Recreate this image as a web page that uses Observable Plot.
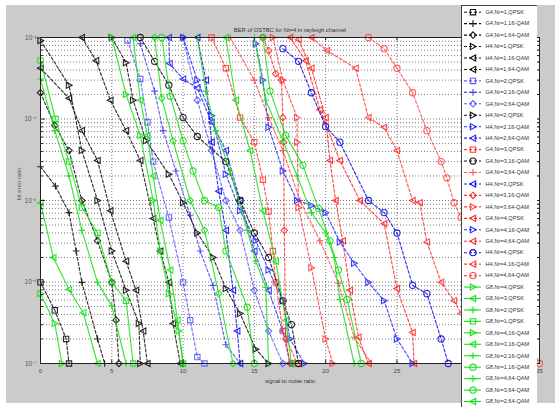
<!DOCTYPE html>
<html><head><meta charset="utf-8">
<script src="https://cdn.jsdelivr.net/npm/d3@7"></script>
<script src="https://cdn.jsdelivr.net/npm/@observablehq/plot@0.6"></script>
<style>
html,body{margin:0;padding:0;background:#fff;overflow:hidden;width:555px;height:407px}
#wrap{position:relative;width:555px;height:407px;overflow:hidden}
#bg{position:absolute;left:6px;top:5px;width:549px;height:398px;background:#cbcbcb}
#chart{position:absolute;left:0;top:0}
#legend{position:absolute;left:461px;top:5px}
</style></head>
<body><div id="wrap"><div id="bg"></div><div id="chart"></div><div id="legend"></div></div>
<script>
const titleText = "BER of OSTBC for Nt=4 in rayleigh channel";
const xLabelText = "signal to noise ratio";
const yLabelText = "bit error ratio";
const xTicks = [0, 5, 10, 15, 20, 25, 30, 35];
const yMajor = [1e-7, 1e-6, 1e-5, 1e-4, 1e-3];

const seriesNames = [
 "G4,Nr=1,QPSK","G4,Nr=1,16-QAM","G4,Nr=1,64-QAM","H4,Nr=1,QPSK","H4,Nr=1,16-QAM","H4,Nr=1,64-QAM",
 "G4,Nr=2,QPSK","G4,Nr=2,16-QAM","G4,Nr=2,64-QAM","H4,Nr=2,QPSK","H4,Nr=2,16-QAM","H4,Nr=2,64-QAM",
 "G4,Nr=3,QPSK","G4,Nr=3,16-QAM","G4,Nr=3,64-QAM","H4,Nr=3,QPSK","H4,Nr=3,16-QAM","H4,Nr=3,64-QAM",
 "G4,Nr=4,QPSK","G4,Nr=4,16-QAM","G4,Nr=4,64-QAM","H4,Nr=4,QPSK","H4,Nr=4,16-QAM","H4,Nr=4,64-QAM",
 "G8,Nr=4,QPSK","G8,Nr=3,QPSK","G8,Nr=2,QPSK","G8,Nr=1,QPSK","G8,Nr=4,16-QAM","G8,Nr=3,16-QAM",
 "G8,Nr=2,16-QAM","G8,Nr=1,16-QAM","G8,Nr=4,64-QAM","G8,Nr=3,64-QAM","G8,Nr=2,64-QAM","G8,Nr=1,64-QAM"
];

const snrValues = [
 [0,1.0,1.8,2.0],
 [0,1.05,2.0,2.5,2.9,4.0,4.5],
 [0,1.0,2.0,2.9,4.0,5.0,5.3,5.5],
 [0,2.0,2.9,4.0,5.0,6.0,6.9,7.0],
 [0,2.0,2.9,4.0,4.9,6.0,6.7,7.2,7.5],
 [2.9,3.9,4.9,6.0,7.0,7.9,8.4,9.0,9.3,9.8],
 [6.1,7.0,7.5,7.9,9.0,10.0,10.5,11.0,11.5],
 [7.0,8.0,8.6,9.5,10.5,11.2,12.1,13.0,14.0],
 [10.0,11.0,12.0,13.0,14.0,15.0,16.0,17.0],
 [5.0,6.0,6.5,7.4,9.0,10.0,11.0,12.1,13.0,14.0,15.1,16.0],
 [10.0,11.0,12.0,13.0,14.0,15.1,16.0,17.0,17.5,18.5],
 [9.0,9.05,10.0,11.0,12.0,13.0,14.0,15.0,16.0,17.0,17.5],
 [12.0,13.0,14.0,15.0,15.6,16.0,16.3,16.5,17.0,18.0],
 [7.0,8.0,9.0,10.0,11.0,13.0,14.0,15.0,16.0,17.0,17.6,18.1],
 [13.3,15.0,16.0,17.0,18.2,19.6,20.9,22.0,23.2],
 [11.0,11.6,12.0,12.5,13.0,13.5,13.8,14.0],
 [15.6,16.0,16.5,16.9,17.0,17.05,17.1,17.2,17.5],
 [16.3,17.0,18.0,18.0,18.1,19.0,20.0,20.5],
 [18.1,19.0,20.0,20.3,20.7,21.2,21.7,22.3,23.0],
 [15.1,15.6,16.0,17.0,18.0,19.0,20.0,21.0,22.0,23.0,24.1,25.0,26.1],
 [17.5,18.6,19.6,21.0,22.4,24.1,25.0,26.1,26.2],
 [17.0,18.1,19.0,20.0,21.0,23.0,24.1,25.0,26.1,27.1,28.1,28.6],
 [19.0,20.1,22.1,23.0,24.1,25.0,26.1,26.6,27.1,28.1,29.0,29.5,30.9,32.3],
 [23.0,24.1,25.0,26.1,27.1,28.1,28.5,29.0,29.5,30.9,32.3,33.7,35.0],
 [0,1.0,1.5],
 [0,0.9,2.0,3.0,4.0],
 [0,1.0,2.0,2.9,4.0,5.0,6.0],
 [0,1.05,2.0,2.9,4.0,5.0,6.0,6.5],
 [5.0,6.0,7.0,7.9,8.4,9.0,9.7,10.0],
 [6.5,7.0,7.5,7.9,8.4,9.1,9.6,10.0],
 [11.0,11.6,12.3,13.3,14.5,15.1,15.8,16.0],
 [8.5,9.1,10.0,10.7,11.5,12.5,13.0,14.5,15.0],
 [15.0,15.8,17.0,18.0,19.0,20.0,20.6,21.0,22.0],
 [15.6,16.1,17.2,18.4,19.5,20.3,20.9,21.5,22.5],
 [13.0,13.7,14.7,15.6,16.5,17.2,17.6],
 [8.0,8.5,9.3,10.5,11.5,12.5,13.5]
];

const berValues = [
 [9.9e-7,4.5e-7,2.0e-7,1e-7],
 [2.6e-5,1.5e-5,7.1e-6,2.4e-6,9.9e-7,2.0e-7,1e-7],
 [2.1e-4,8.3e-5,4.1e-5,1e-5,3.2e-6,9.9e-7,3.4e-7,1e-7],
 [9.2e-4,2.6e-4,4.1e-5,1e-5,2.4e-6,7.9e-7,3.1e-7,1e-7],
 [4.2e-4,1.8e-4,7.2e-5,3.1e-5,7.5e-6,1.8e-6,7.9e-7,2.5e-7,1e-7],
 [1e-3,5.2e-4,1.7e-4,7.2e-5,3.1e-5,6.0e-6,2.4e-6,9.9e-7,3.1e-7,1e-7],
 [9.2e-4,3.1e-4,9.1e-5,3.0e-5,6.2e-6,9.9e-7,3.4e-7,1.2e-7,1e-7],
 [8.4e-4,2.2e-4,7.2e-5,2.3e-5,6.6e-6,2.4e-6,9.1e-7,1.7e-7,1e-7],
 [1e-3,1.7e-4,4.1e-5,1e-5,4.3e-6,7.9e-7,2.5e-7,1e-7],
 [1e-3,4.9e-4,1.7e-4,5.4e-5,2.1e-5,9.4e-6,4.0e-6,2.0e-6,8.3e-7,4.1e-7,1.5e-7,1e-7],
 [1e-3,3.0e-4,1.1e-4,2.1e-5,7.5e-6,3.2e-6,1.4e-6,5.9e-7,2.0e-7,1e-7],
 [1e-3,4.8e-4,3.1e-4,2.4e-4,9.1e-5,4.1e-5,1e-5,2.4e-6,7.9e-7,2.5e-7,1e-7],
 [1e-3,4.2e-4,1.04e-4,5.2e-5,1.8e-5,7.3e-6,2.4e-6,9.9e-7,2.5e-7,1e-7],
 [1e-3,5.1e-4,2.6e-4,1.04e-4,6.1e-5,3.0e-5,1e-5,4.0e-6,2.0e-6,5.9e-7,3.0e-7,1e-7],
 [1e-3,3.0e-4,1.04e-4,4.1e-5,1e-5,3.2e-6,9.7e-7,2.1e-7,1e-7],
 [1e-3,3.0e-4,5.2e-5,1.3e-5,4.3e-6,7.9e-7,2.5e-7,1e-7],
 [1e-3,6.9e-4,3.6e-4,3.0e-4,1.04e-4,5.2e-5,4.3e-6,2.0e-7,1e-7],
 [1e-3,3.0e-4,1.04e-4,5.2e-5,8.2e-6,1.5e-6,2.0e-7,1e-7],
 [9.4e-4,4.2e-4,1.04e-4,3.1e-5,1e-5,3.2e-6,7.9e-7,2.1e-7,1e-7],
 [8.4e-4,3.0e-4,7.9e-5,2.3e-5,1e-5,8.7e-6,7.1e-6,3.1e-6,1.7e-6,9.9e-7,5.9e-7,2.0e-7,1e-7],
 [1e-3,5.2e-4,1.3e-4,3.1e-5,1e-5,5.2e-6,8.3e-7,2.4e-7,1e-7],
 [7.3e-4,5.1e-4,2.1e-4,8.1e-5,5.2e-5,1e-5,7.1e-6,4.0e-6,9.1e-7,7.2e-7,2.0e-7,1e-7],
 [1e-3,6.9e-4,4.2e-4,1.04e-4,7.9e-5,4.1e-5,1e-5,9.4e-6,3.1e-6,9.9e-7,5.9e-7,4.1e-7,1.9e-7,1e-7],
 [1e-3,7.3e-4,4.2e-4,2.1e-4,7.2e-5,3.0e-5,1.9e-5,9.4e-6,6.2e-6,2.1e-6,7.9e-7,2.9e-7,1e-7],
 [7.2e-7,3.1e-7,1e-7],
 [9.4e-6,2.0e-6,8.1e-7,4.2e-7,1e-7],
 [3.1e-4,7.2e-5,2.0e-5,4.3e-6,9.9e-7,5.1e-7,1e-7],
 [5.2e-4,1e-4,3.0e-5,8.2e-6,4.0e-6,9.9e-7,5.9e-7,1e-7],
 [1e-3,2.0e-4,6.3e-5,1e-5,2.4e-6,7.2e-7,2.5e-7,1e-7],
 [1e-3,1.7e-4,6.3e-5,2.0e-5,5.7e-6,1.4e-6,3.4e-7,1e-7],
 [1e-3,2.2e-4,7.2e-5,2.3e-5,4.3e-6,1.8e-6,8.6e-7,1e-7],
 [1e-3,1.9e-4,5.4e-5,2.3e-5,1e-5,8.2e-6,2.4e-6,4.9e-7,1e-7],
 [1e-3,1.7e-4,5.4e-5,2.0e-5,7.1e-6,4.0e-6,2.0e-6,6.1e-7,1e-7],
 [1e-3,2.2e-4,6.3e-5,2.7e-5,8.0e-6,3.2e-6,1.4e-6,6.1e-7,1e-7],
 [1e-3,1.7e-4,4.1e-5,7.5e-6,1.8e-6,3.4e-7,1e-7],
 [1e-3,1.8e-4,5.4e-5,1e-5,4.3e-6,7.2e-7,1e-7]
];

const seriesColors = [
 "#111","#111","#111","#111","#111","#111",
 "#5a5aff","#4444ff","#5a5aff","#111","#2a2aff","#2a2aff",
 "#ff3b3b","#111","#ff4d4d","#1010ee","#ff3030","#ff4040",
 "#ff2a2a","#2a2aff","#ff2a2a","#1010dd","#ff3a3a","#ff4d4d",
 "#18e018","#18e018","#18e018","#18e018","#18e018","#18e018",
 "#18e018","#18e018","#18e018","#18e018","#18e018","#18e018"
];
const seriesMarkers = [
 "square","plus","diamond","triR","triL","triL",
 "square","plus","diamond","triR","triR","triL",
 "square","circle","plus","triL","diamond","triR",
 "triL","triR","triL","circle","triL","circle",
 "triR","triL","plus","square","triR","triL",
 "plus","circle","plus","circle","triL","diamond"
];
const seriesDashed = seriesNames.map(n => !n.startsWith("G8"));
// the legend box runs off the bottom of the figure: only the first 35 entries are visible
const legendVisible = 35;

const triR = {draw(ctx, size) { const s = Math.sqrt(size / Math.PI); ctx.moveTo(s, 0); ctx.lineTo(-s * 0.85, -s); ctx.lineTo(-s * 0.85, s); ctx.closePath(); }};
const triL = {draw(ctx, size) { const s = Math.sqrt(size / Math.PI); ctx.moveTo(-s, 0); ctx.lineTo(s * 0.85, -s); ctx.lineTo(s * 0.85, s); ctx.closePath(); }};
const symbolOf = m => m === "triR" ? triR : m === "triL" ? triL : m === "square" ? "square2" : m === "diamond" ? "diamond2" : m;
const radiusOf = m => m === "plus" ? 2.3 : m === "square" ? 3.4 : m === "diamond" ? 2.9 : 3.1;

const yMinor = [];
for (const d of yMajor.slice(0, -1)) for (let m = 2; m <= 9; m++) yMinor.push(d * m);
const yAll = yMajor.concat(yMinor);

const sup = {"-":"\u207B","0":"\u2070","1":"\u00B9","2":"\u00B2","3":"\u00B3","4":"\u2074","5":"\u2075","6":"\u2076","7":"\u2077","8":"\u2078","9":"\u2079"};
const fmtPow = d => "10" + String(Math.round(Math.log10(d))).split("").map(c => sup[c]).join("");

const seriesMarks = [];
seriesNames.forEach((name, i) => {
  const pts = snrValues[i].map((snr, j) => ({snr, ber: berValues[i][j]}));
  seriesMarks.push(Plot.line(pts, {x: "snr", y: "ber", stroke: seriesColors[i], strokeWidth: 1.15,
    strokeOpacity: 0.85, strokeDasharray: seriesDashed[i] ? "3,2" : null}));
  seriesMarks.push(Plot.dot(pts, {x: "snr", y: "ber", symbol: symbolOf(seriesMarkers[i]), r: radiusOf(seriesMarkers[i]),
    stroke: seriesColors[i], fill: "none", strokeWidth: 1.1, strokeOpacity: 0.9}));
});

const font = "'Liberation Sans', Arial, Helvetica, sans-serif";

const chart = Plot.plot({
  width: 555, height: 407,
  marginLeft: 40, marginRight: 16, marginTop: 37, marginBottom: 44,
  style: {background: "transparent", fontFamily: font},
  x: {domain: [0, 35]},
  y: {type: "log", domain: [1e-7, 1e-3]},
  marks: [
    Plot.frame({fill: "white"}),
    Plot.ruleY(yAll, {y: d => d, x1: 0, x2: 35, stroke: "#222", strokeWidth: 0.75, strokeDasharray: "1,2", strokeOpacity: 0.8}),
    Plot.ruleX(xTicks.slice(1, -1), {x: d => d, y1: 1e-7, y2: 1e-3, stroke: "#222", strokeWidth: 0.75, strokeDasharray: "1,2", strokeOpacity: 0.8}),
    ...seriesMarks,
    Plot.ruleY(yMajor, {y: d => d, x1: 0, x2: 0.35, stroke: "#222"}),
    Plot.ruleY(yMinor, {y: d => d, x1: 0, x2: 0.2, stroke: "#222"}),
    Plot.ruleY(yMajor, {y: d => d, x1: 34.65, x2: 35, stroke: "#222"}),
    Plot.ruleY(yMinor, {y: d => d, x1: 34.8, x2: 35, stroke: "#222"}),
    Plot.ruleX(xTicks, {x: d => d, y1: 1e-7, y2: 1.1e-7, stroke: "#222"}),
    Plot.ruleX(xTicks, {x: d => d, y1: 1e-3, y2: 9.1e-4, stroke: "#222"}),
    Plot.frame({stroke: "#222", strokeWidth: 1}),
    Plot.axisX({ticks: xTicks, tickSize: 0, tickPadding: 5, fontSize: 6, fill: "#444", label: null}),
    Plot.axisY({ticks: yMajor, tickSize: 0, tickPadding: 4, fontSize: 6.5, fill: "#555", tickFormat: fmtPow, label: null}),
    Plot.text([titleText], {frameAnchor: "top", dy: -10, fontSize: 5.8, fill: "#333"}),
    Plot.text([xLabelText], {frameAnchor: "bottom", dy: 19, fontSize: 5.8, fill: "#333"}),
    Plot.text([yLabelText], {frameAnchor: "left", dx: -21, rotate: -90, fontSize: 5.8, fill: "#555"})
  ]
});
document.getElementById("chart").appendChild(chart);

// Legend
const legendMarks = [Plot.frame({fill: "white", stroke: "#444", strokeWidth: 1})];
seriesNames.slice(0, legendVisible).forEach((name, i) => {
  legendMarks.push(Plot.ruleY([i], {y: d => d, x1: 3, x2: 20, stroke: seriesColors[i], strokeWidth: 1.1,
    strokeDasharray: seriesDashed[i] ? "3,2" : null}));
  legendMarks.push(Plot.dot([i], {x: 11.5, y: d => d, symbol: symbolOf(seriesMarkers[i]), r: radiusOf(seriesMarkers[i]),
    stroke: seriesColors[i], fill: "none", strokeWidth: 1.1}));
  legendMarks.push(Plot.text([name], {x: 24, y: () => i, textAnchor: "start", fontSize: 5.6, fill: "#333"}));
});
const legend = Plot.plot({
  width: 76, height: 420, margin: 0,
  style: {background: "transparent", fontFamily: font},
  x: {domain: [0, 76], range: [0, 76], axis: null},
  y: {domain: [0, 35], range: [6.7, 407.5], axis: null},
  marks: legendMarks
});
document.getElementById("legend").appendChild(legend);
</script>
</body></html>
